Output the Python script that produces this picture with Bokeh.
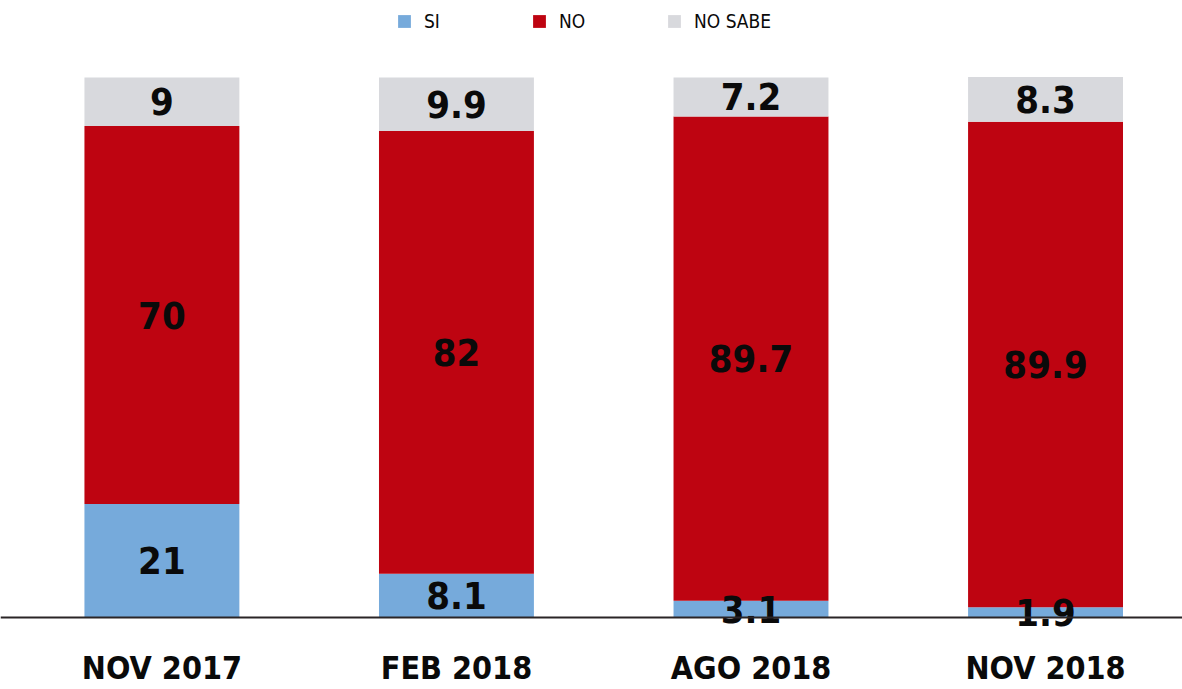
from bokeh.plotting import figure
from bokeh.models import Range1d, Span, Legend, LegendItem, ColumnDataSource
from bokeh.core.properties import value
from bokeh.embed import file_html
from bokeh.resources import INLINE

categories = ["NOV 2017", "FEB 2018", "AGO 2018", "NOV 2018"]
si = [21, 8.1, 3.1, 1.9]
no = [70, 82, 89.7, 89.9]
no_sabe = [9, 9.9, 7.2, 8.3]
series_names = ["SI", "NO", "NO SABE"]
colors = ["#76aadb", "#be0411", "#d8d9dd"]

FONT = "'DejaVu Sans Condensed', sans-serif"

W, H = 1182, 689
p = figure(width=W, height=H, output_backend="svg", toolbar_location=None,
           x_range=Range1d(-0.548, 3.465), y_range=Range1d(-13.33, 114.26),
           min_border=0, min_border_left=0, min_border_right=0,
           min_border_top=0, min_border_bottom=0)
p.xaxis.visible = False
p.yaxis.visible = False
p.xgrid.visible = False
p.ygrid.visible = False
p.outline_line_color = None
p.background_fill_color = "white"
p.border_fill_color = "white"

idx = list(range(len(categories)))
src = ColumnDataSource(dict(x=idx, SI=si, NO=no, NS=no_sabe))
renderers = p.vbar_stack(["SI", "NO", "NS"], x="x", width=0.526, source=src,
                         color=colors, line_color=None)

# value labels centered in each segment
lab_x, lab_y, lab_t = [], [], []
for i in idx:
    base = 0
    for vals in (si, no, no_sabe):
        v = vals[i]
        lab_x.append(i)
        lab_y.append(base + v / 2)
        lab_t.append(f"{v:g}")
        base += v
p.text(x=lab_x, y=lab_y, text=lab_t, text_align="center", text_baseline="middle",
       text_font=value(FONT), text_font_style="bold", text_font_size="38px",
       text_color="#0a0a0a")

# category labels below baseline
p.text(x=idx, y=[-9.4] * len(idx), text=categories, text_align="center",
       text_baseline="middle", text_font=value(FONT), text_font_style="bold",
       text_font_size="32px", text_color="#0a0a0a")

p.add_layout(Span(location=0, dimension="width", line_color="#2a2526", line_width=2))

legend = Legend(items=[LegendItem(label=n, renderers=[r]) for n, r in zip(series_names, renderers)],
                orientation="horizontal", location=(396, 657),
                glyph_width=16, glyph_height=16, label_standoff=12,
                label_width=92, spacing=15, padding=0, margin=0,
                border_line_alpha=0, background_fill_alpha=0,
                label_text_font=FONT, label_text_font_size="19px",
                label_text_color="#0a0a0a")
p.add_layout(legend)

open("out.html", "w").write(file_html(p, INLINE))
